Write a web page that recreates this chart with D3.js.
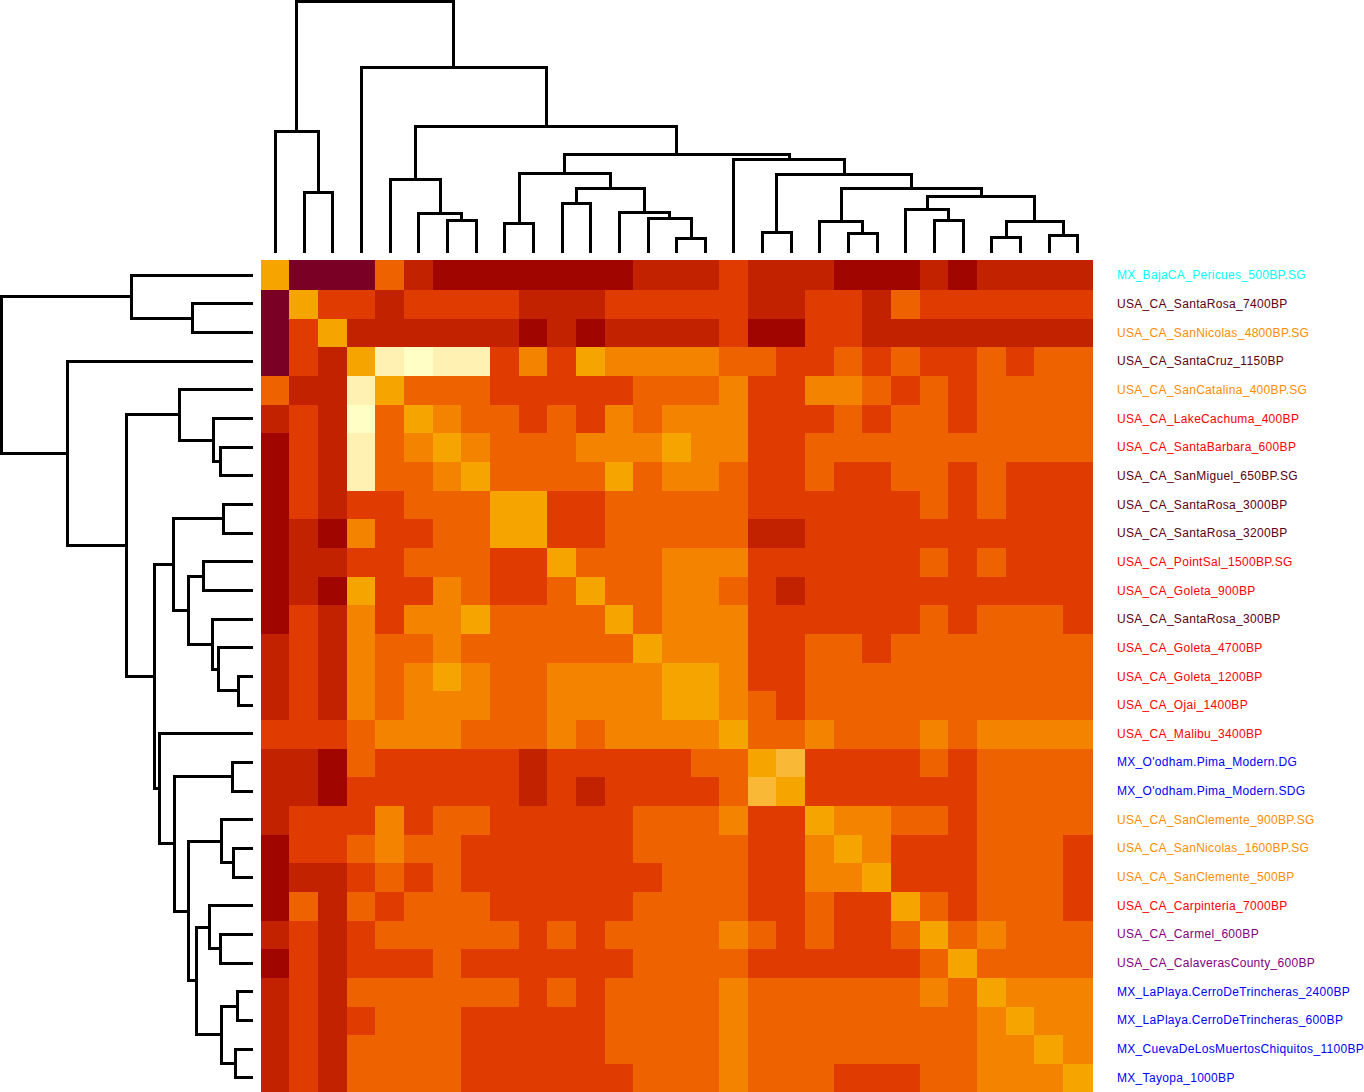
<!DOCTYPE html>
<html>
<head>
<meta charset="utf-8">
<script src="https://cdn.jsdelivr.net/npm/d3@7"></script>
<style>
html,body{margin:0;padding:0;background:#fff;overflow:hidden}
svg{display:block}
text{font-family:"Liberation Sans",Arial,sans-serif;font-size:12px;letter-spacing:0.31px}
</style>
</head>
<body>
<svg id="chart" width="1364" height="1092"></svg>
<script>
const labels = [
"MX_BajaCA_Pericues_500BP.SG","USA_CA_SantaRosa_7400BP","USA_CA_SanNicolas_4800BP.SG","USA_CA_SantaCruz_1150BP",
"USA_CA_SanCatalina_400BP.SG","USA_CA_LakeCachuma_400BP","USA_CA_SantaBarbara_600BP","USA_CA_SanMiguel_650BP.SG",
"USA_CA_SantaRosa_3000BP","USA_CA_SantaRosa_3200BP","USA_CA_PointSal_1500BP.SG","USA_CA_Goleta_900BP",
"USA_CA_SantaRosa_300BP","USA_CA_Goleta_4700BP","USA_CA_Goleta_1200BP","USA_CA_Ojai_1400BP","USA_CA_Malibu_3400BP",
"MX_O'odham.Pima_Modern.DG","MX_O'odham.Pima_Modern.SDG","USA_CA_SanClemente_900BP.SG","USA_CA_SanNicolas_1600BP.SG",
"USA_CA_SanClemente_500BP","USA_CA_Carpinteria_7000BP","USA_CA_Carmel_600BP","USA_CA_CalaverasCounty_600BP",
"MX_LaPlaya.CerroDeTrincheras_2400BP","MX_LaPlaya.CerroDeTrincheras_600BP","MX_CuevaDeLosMuertosChiquitos_1100BP","MX_Tayopa_1000BP"];

// label colour per row
const labelColors = ["#00ffff","#5a0010","#ff8c00","#5a0010","#ff8c00","#ff0000","#ff0000","#5a0010","#5a0010","#5a0010",
"#ff0000","#ff0000","#5a0010","#ff0000","#ff0000","#ff0000","#ff0000","#0000ff","#0000ff","#ff8c00","#ff8c00","#ff8c00",
"#ff0000","#800080","#800080","#0000ff","#0000ff","#0000ff","#0000ff"];

// binned cell values
const matrix = [
[6,0,0,0,4,2,1,1,1,1,1,1,1,2,2,2,3,2,2,2,1,1,1,2,1,2,2,2,2],
[0,6,3,3,2,3,3,3,3,2,2,2,3,3,3,3,3,2,2,3,3,2,4,3,3,3,3,3,3],
[0,3,6,2,2,2,2,2,2,1,2,1,2,2,2,2,3,1,1,3,3,2,2,2,2,2,2,2,2],
[0,3,2,6,8,9,8,8,3,5,3,6,5,5,5,5,4,4,3,3,4,3,4,3,3,4,3,4,4],
[4,2,2,8,6,4,4,4,3,3,3,3,3,4,4,4,5,3,3,5,5,4,3,4,3,4,4,4,4],
[2,3,2,9,4,6,5,4,4,3,4,3,5,4,5,5,5,3,3,3,4,3,4,4,3,4,4,4,4],
[1,3,2,8,4,5,6,5,4,4,4,5,5,5,6,5,5,3,3,4,4,4,4,4,4,4,4,4,4],
[1,3,2,8,4,4,5,6,4,4,4,4,6,4,5,5,4,3,3,4,3,3,4,4,3,4,3,3,3],
[1,3,2,3,3,4,4,4,6,6,3,3,4,4,4,4,4,3,3,3,3,3,3,4,3,4,3,3,3],
[1,2,1,5,3,3,4,4,6,6,3,3,4,4,4,4,4,2,2,3,3,3,3,3,3,3,3,3,3],
[1,2,2,3,3,4,4,4,3,3,6,4,4,4,5,5,5,3,3,3,3,3,3,4,3,4,3,3,3],
[1,2,1,6,3,3,5,4,3,3,4,6,4,4,5,5,4,3,2,3,3,3,3,3,3,3,3,3,3],
[1,3,2,5,3,5,5,6,4,4,4,4,6,4,5,5,5,3,3,3,3,3,3,4,3,4,4,4,3],
[2,3,2,5,4,4,5,4,4,4,4,4,4,6,5,5,5,3,3,4,4,3,4,4,4,4,4,4,4],
[2,3,2,5,4,5,6,5,4,4,5,5,5,5,6,6,5,3,3,4,4,4,4,4,4,4,4,4,4],
[2,3,2,5,4,5,5,5,4,4,5,5,5,5,6,6,5,4,3,4,4,4,4,4,4,4,4,4,4],
[3,3,3,4,5,5,5,4,4,4,5,4,5,5,5,5,6,4,4,5,4,4,4,5,4,5,5,5,5],
[2,2,1,4,3,3,3,3,3,2,3,3,3,3,3,4,4,6,7,3,3,3,3,4,3,4,4,4,4],
[2,2,1,3,3,3,3,3,3,2,3,2,3,3,3,3,4,7,6,3,3,3,3,3,3,4,4,4,4],
[2,3,3,3,5,3,4,4,3,3,3,3,3,4,4,4,5,3,3,6,5,5,4,4,3,4,4,4,4],
[1,3,3,4,5,4,4,3,3,3,3,3,3,4,4,4,4,3,3,5,6,5,3,3,3,4,4,4,3],
[1,2,2,3,4,3,4,3,3,3,3,3,3,3,4,4,4,3,3,5,5,6,3,3,3,4,4,4,3],
[1,4,2,4,3,4,4,4,3,3,3,3,3,4,4,4,4,3,3,4,3,3,6,4,3,4,4,4,3],
[2,3,2,3,4,4,4,4,4,3,4,3,4,4,4,4,5,4,3,4,3,3,4,6,4,5,4,4,4],
[1,3,2,3,3,3,4,3,3,3,3,3,3,4,4,4,4,3,3,3,3,3,3,4,6,4,4,4,4],
[2,3,2,4,4,4,4,4,4,3,4,3,4,4,4,4,5,4,4,4,4,4,4,5,4,6,5,5,5],
[2,3,2,3,4,4,4,3,3,3,3,3,4,4,4,4,5,4,4,4,4,4,4,4,4,5,6,5,5],
[2,3,2,4,4,4,4,3,3,3,3,3,4,4,4,4,5,4,4,4,4,4,4,4,4,5,5,6,5],
[2,3,2,4,4,4,4,3,3,3,3,3,3,4,4,4,5,4,4,4,3,3,3,4,4,5,5,5,6]
];

const levelColors = ["#7a0026","#a10500","#c22200","#e03b00","#ee6200","#f48400","#f6a400","#f9b835","#fef1b1","#ffffc5"];

// hclust-style linkage: negative = leaf -(i+1), positive = earlier merge (1-based)
const mergeA = [-15,-26,-28,-21,-18,-9,-20,2,-7,-24,-23,-14,-13,-11,14,6,-6,-5,-2,-1,11,7,5,-17,16,18,-4,20];
const mergeB = [-16,-27,-29,-22,-19,-10,4,3,-8,-25,10,1,12,-12,13,15,9,17,-3,19,8,21,22,23,24,25,26,27];
const mergeHeight = [0.058,0.063,0.071,0.079,0.083,0.118,0.126,0.126,0.131,0.130,0.174,0.138,0.162,0.195,0.258,0.316,0.158,0.293,0.241,0.482,0.225,0.258,0.313,0.373,0.393,0.502,0.736,1.000];

const svg = d3.select("#chart");
const indices = d3.range(labels.length);
const n = indices.length;

const x = d3.scaleBand().domain(indices).range([261.07, 1092.27]).paddingInner(0).paddingOuter(0);
const y = d3.scaleBand().domain(indices).range([260.9, 1092]).paddingInner(0).paddingOuter(0);
const dist = d3.scaleLinear().domain([0, 1]).range([253, 1.5]);
const color = d3.scaleOrdinal().domain(d3.range(levelColors.length)).range(levelColors);

// pixel edges of the raster cells, snapped the way the source image is
const xEdge = k => k === n ? Math.ceil(x.range()[1]) : Math.floor(x(k));
const yEdge = k => k === 0 ? Math.floor(y(0)) : k === n ? Math.floor(y.range()[1]) : Math.ceil(y(k));

// heatmap
const cells = matrix.flatMap((row, r) => row.map((v, c) => ({r, c, v})));
svg.append("g").attr("class","cells").attr("shape-rendering","crispEdges")
  .selectAll("rect").data(cells).join("rect")
  .attr("x", d => xEdge(d.c))
  .attr("y", d => yEdge(d.r))
  .attr("width", d => xEdge(d.c + 1) - xEdge(d.c))
  .attr("height", d => yEdge(d.r + 1) - yEdge(d.r))
  .attr("fill", d => color(d.v));

// row labels
svg.append("g").attr("class","labels")
  .selectAll("text").data(labels).join("text")
  .attr("x", 1117)
  .attr("y", (d, i) => y(i) + y.bandwidth() / 2 - 0.15)
  .attr("dy", "0.35em")
  .attr("fill", (d, i) => labelColors[i])
  .text(d => d);

// dendrograms: both axes show the same linkage
function dendroPath(pos, flip) {
  const nodes = [];
  const at = id => id < 0
    ? {p: pos(-id - 1) + pos.bandwidth() / 2, h: 0}
    : nodes[id - 1];
  const path = d3.path();
  const pt = flip ? (a, b) => [b, a] : (a, b) => [a, b];
  mergeHeight.forEach((h, i) => {
    const A = at(mergeA[i]), B = at(mergeB[i]);
    const lev = dist(h);
    path.moveTo(...pt(A.p, dist(A.h)));
    path.lineTo(...pt(A.p, lev));
    path.lineTo(...pt(B.p, lev));
    path.lineTo(...pt(B.p, dist(B.h)));
    nodes.push({p: (A.p + B.p) / 2, h});
  });
  return path.toString();
}

const dendro = svg.append("g").attr("class","dendro")
  .attr("fill","none").attr("stroke","#000").attr("stroke-width",3)
  .attr("stroke-linejoin","miter").attr("shape-rendering","crispEdges");
dendro.append("path").attr("d", dendroPath(x, false));
dendro.append("path").attr("d", dendroPath(y, true));
</script>
</body>
</html>
